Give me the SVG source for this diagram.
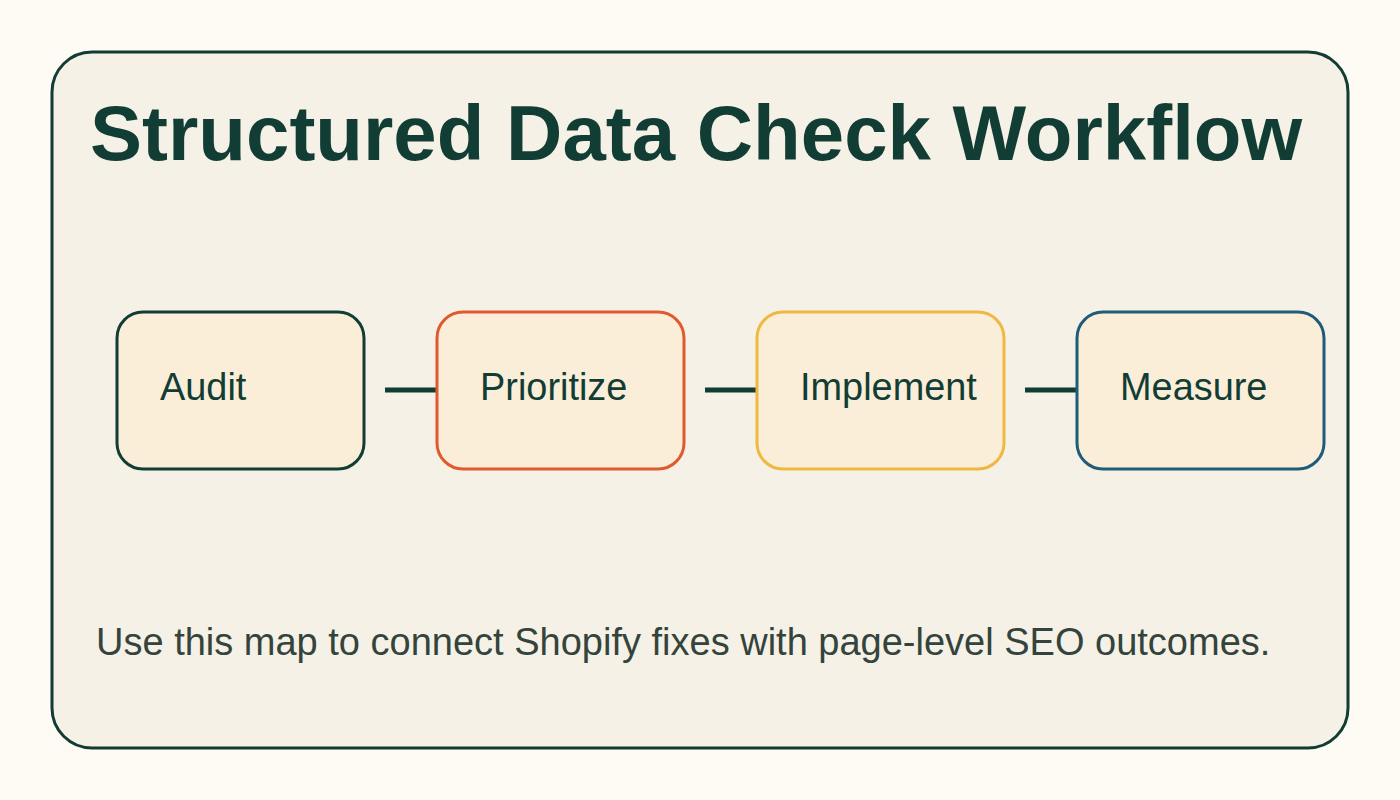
<svg xmlns="http://www.w3.org/2000/svg" width="1400" height="800" viewBox="0 0 1400 800">
<style>
.node{fill:#faeed8;stroke-width:3}
.lbl{font-family:"Liberation Sans",Arial,sans-serif;font-size:37.9px;fill:#123d35}
.conn{stroke:#123d35;stroke-width:5;fill:none}
</style>
<rect width="1400" height="800" fill="#fdfbf4"/>
<rect x="52" y="52" width="1296" height="696" rx="40" fill="#f5f1e6" stroke="#123d35" stroke-width="3"/>
<text x="90" y="160" font-family="Liberation Sans,Arial,sans-serif" font-weight="bold" font-size="78" fill="#123d35">Structured Data Check Workflow</text>
<g id="connectors">
<line class="conn" x1="385" y1="390" x2="436" y2="390"/>
<line class="conn" x1="705" y1="390" x2="756" y2="390"/>
<line class="conn" x1="1025" y1="390" x2="1076" y2="390"/>
</g>
<g id="audit"><rect class="node" x="117" y="312" width="247" height="157" rx="26" stroke="#123d35"/><text class="lbl" x="160" y="400">Audit</text></g>
<g id="prioritize"><rect class="node" x="437" y="312" width="247" height="157" rx="26" stroke="#e05a2e"/><text class="lbl" x="480" y="400">Prioritize</text></g>
<g id="implement"><rect class="node" x="757" y="312" width="247" height="157" rx="26" stroke="#f0b840"/><text class="lbl" x="800" y="400">Implement</text></g>
<g id="measure"><rect class="node" x="1077" y="312" width="247" height="157" rx="26" stroke="#1f5c7a"/><text class="lbl" x="1120" y="400">Measure</text></g>
<text x="96" y="655" font-family="Liberation Sans,Arial,sans-serif" font-size="38" fill="#34443c">Use this map to connect Shopify fixes with page-level SEO outcomes.</text>
</svg>
